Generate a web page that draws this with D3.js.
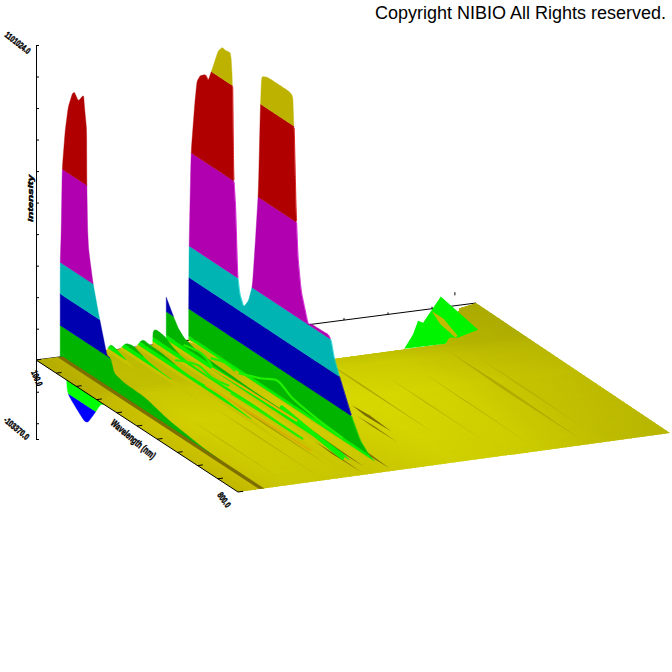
<!DOCTYPE html>
<html><head><meta charset="utf-8">
<script src="https://cdn.jsdelivr.net/npm/d3@7"></script>
<style>html,body{margin:0;padding:0;background:#fff}svg{display:block}</style>
</head><body><svg id="c" width="672" height="672"></svg>
<script>
// ---------- chart values (wavelength & time as fraction of their axes, intensity as % of full scale) ----------
const copyright = "Copyright NIBIO All Rights reserved.";
const intensityTicks = [-25,-20,-10,0,10,20,30,40,50,60,70,80,90,100];
const wavelengthTicks = [0,.1,.2,.3,.4,.5,.6,.7,.8,.9,1];
const levelsTall = [0,.5,1.5,10,20,30,60,90,102];
const levelsHill = [0,1.2,2.6,10,20,30,60,90,102];
const bandColours = ["#c8c400","#00f000","#00b400","#0000b0","#00b4b4","#b000b0","#b00000","#bdb200"];
const negLevels = [-102,-10,0];
const negColours = ["#0000ff","#00ff00"];

const mainU = [0,0,.002,.012,.032,.042,.058,.083,.098,.118,.148,.169,.184,.209,.214,.219,.224,.234,.244,.255,.275,.30,.32,.335,.35,.36,.366,.396,.522,.527,.537,.547,.563,.598,.613,.70,.714,.729,.755,.815,.86,.90,.931,.967];
const mainI = [0,9.5,29.5,60,77.5,84,86.4,87.8,86.5,91,98,100,99.7,100,97.8,91.5,62,52,31,25.4,22,25,30.7,45.6,62,89,99,100,100,91.7,64.5,49,39,30,30.8,31,29.6,24.8,20,10,4,1.5,.5,0];
const leftU = [0,0,.005,.01,.025,.04,.06,.07,.09,.116,.121,.131,.132,.136,.141,.162,.187,.2,.217,.232,.25,.268,.318,.42,.54,.707,.9];
const leftI = [0,30,40,60,73,81,86,87,85,88,84,77.6,61,46,40,30.5,22.7,19,14.3,10.2,10,6,5,4.7,2.4,.8,0];
const spikeU = [0,0,0,.04,.06,.09,.15,.23,.3,.43,.58,.73,.88,.98];
const spikeI = [0,7,14.6,9.5,7.3,5.4,4,3.6,3.4,3,3,2.8,2,0];
const hillBU = [0,.003,.058,.093,.144,.245,.346,.548,.75,.95];
const hillBI = [0,5.6,5.4,3.8,2.2,1.6,1.9,2.2,1.1,0];
const hillCU = [0,.033,.073,.124,.25,.376,.58,.75];
const hillCI = [0,4,3.5,3.5,2,2.5,1.2,0];
const hillDU = [0,.03,.07,.1,.146,.22,.3,.4];
const hillDI = [0,3.2,4,3,2,1.3,1.1,0];
const hillEU = [0,.02,.05,.09,.14];
const hillEI = [0,3,2.6,1.5,0];
const ridgeTimes = [.93,.347,.296,.265,.227,.19,.16,.055];
const negU = [.03,.03,.035,.08,.13,.173,.2,.22,.25];
const negI = [0,-3,-10,-13,-16,-10.5,-6.7,-6,0];

const floorEdgeU = [0,1,1,0,.02,.236,.24,.24,0];
const floorEdgeV = [0,0,1,1,.954,.826,.577,.4,.34];
const floorShadeV = [0,.045,.06,.12,.3,.5,.7,.85,1];
const floorShade = ["#c8c000","#cfc400","#cfca00","#d2d000","#d0cc00","#d8d800","#d2d200","#c6c400","#bebc00"];
const floorShadeU = [0,.24,.3,.5,.8,1];
const floorBright = [.9,.92,.96,1,.98,.96];

const farHillU = [.233,.15,.066,.083,0,.174,.208,.20,.236];
const farHillV = [.733,.79,.839,.843,.92,.928,.866,.851,.826];
const farHillI = [0,0,0,0,3.5,0,0,0,0];
const farInnerU = [.014,.075,.195,.205,.105];
const farInnerV = [.893,.893,.872,.862,.872];

const streakV = [.315,.295,.36,.47,.547,.81,.85,.45,.12,.2,.25,.62,.7];
const streakA = [.55,.75,.8,.55,.18,.28,.35,.62,.5,.45,.4,.4,.4];
const streakB = [.95,.98,.98,.75,.8,.97,.9,.82,.95,.98,.9,.9,.95];
const streakW = [.005,.004,.004,.005,.003,.005,.003,.003,.002,.002,.003,.002,.002];
const streakDark = [1,1,.8,.9,.22,.2,.12,.6,.12,.15,.35,.08,.08];

const trackU = [[.253,.304,.329,.45,.597,.747],[.117,.168,.255,.32],[.029,.094,.179],[.134,.171,.23],[.374,.504,.719],[.504,.873],[.2,.35,.6],[.3,.5,.8]];
const trackV = [[.348,.376,.399,.378,.365,.358],[.265,.293,.283,.292],[.324,.333,.318],[.338,.351,.347],[.275,.278,.279],[.33,.30],[.31,.315,.32],[.25,.255,.26]];
const trackColours = ["#20f000","#20f000","#20f000","#20f000","#20f000","#10f000","#e0b400","#d8b000"];

// ---------- projection through scales ----------
const svg = d3.select("#c");
const leftX = d3.scaleLinear([0,1],[36,238]), leftY = d3.scaleLinear([0,1],[360,492]);
const rightX = d3.scaleLinear([0,1],[476,670]), rightY = d3.scaleLinear([0,1],[303,433]);
const intensityPx = d3.scaleLinear([0,100],[0,315]);
const X = (u,v)=>d3.interpolateNumber(leftX(u),rightX(u))(v);
const Y = (u,v,z=0)=>d3.interpolateNumber(leftY(u),rightY(u))(v)-intensityPx(z);
const poly = pts=>"M"+pts.map(p=>p.join(",")).join("L")+"Z";

// ---------- axes behind the surface ----------
const axisScale = d3.scaleLinear([100,-25],[45,439]);
svg.append("g").attr("transform","translate(36,0)")
  .call(d3.axisRight(axisScale).tickValues(intensityTicks).tickSize(3).tickSizeOuter(0).tickFormat(""))
  .call(g=>{g.selectAll("path,line").attr("stroke","#000");});
svg.append("path").attr("d",d3.line()([[X(0,0),Y(0,0)],[X(0,1),Y(0,1)]])).attr("stroke","#000").attr("fill","none");
d3.range(.1,1,.1).forEach(v=>svg.append("line").attr("x1",X(0,v)).attr("x2",X(0,v)).attr("y1",Y(0,v)).attr("y2",Y(0,v)-2).attr("stroke","#000"));
svg.append("line").attr("x1",X(0,.952)).attr("x2",X(0,.952)).attr("y1",Y(0,.952,3.3)).attr("y2",Y(0,.952,4.3)).attr("stroke","#000");

// ---------- wall rendering: a profile at constant time, cut by intensity bands ----------
function dense(us,is,win){
  const out=[];
  for(let i=0;i<us.length-1;i++) for(let k=0;k<30;k++){const t=k/30;out.push([us[i]+(us[i+1]-us[i])*t, is[i]+(is[i+1]-is[i])*t]);}
  out.push([us[us.length-1],is[is.length-1]]);
  if(!win) return out;
  return out.map((p,i)=>{
    const a=Math.max(0,i-win), b=Math.min(out.length-1,i+win), r=Math.min(i-a,b-i);
    const s=out.slice(i-r,i+r+1);
    return [d3.mean(s,q=>q[0]),d3.mean(s,q=>q[1])];
  });
}
function wall(us,is,v,levels,colours,opt={}){
  const d=dense(us,is,opt.win===undefined?12:opt.win), g=svg.append("g");
  colours.forEach((c,i)=>{
    const a=levels[i], b=levels[i+1];
    const fill=(opt.noLime&&i<3)?"#00b400":c;
    const area=d3.area().defined(p=>p[1]>a).x(p=>X(p[0],v)).y0(p=>Y(p[0],v,a)).y1(p=>Y(p[0],v,Math.min(p[1],b)));
    g.append("path").attr("d",area(d)).attr("fill",fill).attr("stroke",fill).attr("stroke-width",.4);
  });
  if(opt.fringe){
    colours.forEach((c,i)=>{
      if(i<2||i===7) return;
      const a=levels[i], b=levels[i+1];
      const marked=d.map((p,k)=>({p,on:p[1]>a&&p[1]<b&&k>0&&d[k-1][1]>p[1]}));
      const line=d3.line().defined(q=>q.on).x(q=>X(q.p[0],v)+.4).y(q=>Y(q.p[0],v,q.p[1]));
      g.append("path").attr("d",line(marked)).attr("fill","none").attr("stroke",d3.rgb(c).brighter(.5)).attr("stroke-width",.8);
    });
  }
}

// negative lobe under the floor
(function(){
  const d=dense(negU,negI,10), g=svg.append("g"), v=ridgeTimes[7];
  negColours.forEach((c,i)=>{
    const a=negLevels[i], b=negLevels[i+1];
    const area=d3.area().defined(p=>p[1]<b).x(p=>X(p[0],v)).y0(p=>Y(p[0],v,b)).y1(p=>Y(p[0],v,Math.max(p[1],a)));
    g.append("path").attr("d",area(d)).attr("fill",c).attr("stroke",c).attr("stroke-width",.4);
  });
})();

// ---------- floor ----------
const floorPts = floorEdgeU.map((u,i)=>[X(u,floorEdgeV[i]),Y(u,floorEdgeV[i])]);
svg.append("clipPath").attr("id","floorClip").append("path").attr("d",poly(floorPts));
const shade = d3.scaleLinear(floorShadeV,floorShade);
const bright = d3.scaleLinear(floorShadeU,floorBright);
const floorG = svg.append("g").attr("clip-path","url(#floorClip)");
d3.range(0,1,.02).forEach(u=>d3.range(0,1,.01).forEach(v=>{
  const c=d3.rgb(shade(v)), k=bright(u), col=d3.rgb(c.r*k,c.g*k,c.b*k).formatHex();
  const u2=u+.022, v2=v+.0105;
  floorG.append("path").attr("d",poly([[X(u,v),Y(u,v)],[X(u2,v),Y(u2,v)],[X(u2,v2),Y(u2,v2)],[X(u,v2),Y(u,v2)]]))
    .attr("fill",col).attr("stroke",col).attr("stroke-width",1);
}));
streakV.forEach((v,i)=>{
  const a=streakA[i], b=streakB[i], w=streakW[i], m=a+(b-a)*.4;
  const col=d3.interpolateRgb("#c4bc00","#6f6200")(streakDark[i]);
  floorG.append("path").attr("d",poly([[X(a,v),Y(a,v)],[X(m,v+w),Y(m,v+w)],[X(b,v),Y(b,v)],[X(m,v-w),Y(m,v-w)]])).attr("fill",col);
});

// ---------- far hill ----------
svg.append("path").attr("d",poly(farHillU.map((u,i)=>[X(u,farHillV[i]),Y(u,farHillV[i],farHillI[i])]))).attr("fill","#00f400");
svg.append("path").attr("d",poly(farInnerU.map((u,i)=>[X(u,farInnerV[i]),Y(u,farInnerV[i])]))).attr("fill","#c0bc00");

// ---------- ridges back to front ----------
wall(mainU,mainI,ridgeTimes[1],levelsTall,bandColours,{fringe:true,win:6});
wall(spikeU,spikeI,ridgeTimes[2],levelsHill,bandColours,{win:0});
wall(hillBU,hillBI,ridgeTimes[3],levelsHill,bandColours);
wall(hillCU,hillCI,ridgeTimes[4],levelsHill,bandColours);
wall(hillDU,hillDI,ridgeTimes[5],levelsHill,bandColours);
wall(hillEU,hillEI,ridgeTimes[6],levelsHill,bandColours);

// tracks over the foot of the ridges
const trackLine = d3.line().curve(d3.curveCatmullRom);
trackU.forEach((us,i)=>{
  svg.append("path").attr("d",trackLine(us.map((u,k)=>[X(u,trackV[i][k]),Y(u,trackV[i][k])])))
    .attr("fill","none").attr("stroke",trackColours[i]).attr("stroke-width",i===5?4:2.2).attr("stroke-linecap","round");
});

wall(leftU,leftI,ridgeTimes[7],levelsTall,bandColours,{noLime:true,win:6});
// brown fold at the foot of the left ridge
(function(){const v=ridgeTimes[7],w=.006;
 svg.append("path").attr("d",poly([[X(0,v-w),Y(0,v-w)],[X(1,v-w),Y(1,v-w)],[X(1,v+w),Y(1,v+w)],[X(0,v+w),Y(0,v+w)]])).attr("fill","#7d6e00");
})();

// ---------- front axis ----------
svg.append("path").attr("d",d3.line()([[X(0,0),Y(0,0)],[X(1,0),Y(1,0)]])).attr("stroke","#000").attr("fill","none");
wavelengthTicks.forEach(u=>svg.append("line").attr("x1",X(u,0)).attr("y1",Y(u,0)).attr("x2",X(u,.012)).attr("y2",Y(u,.012)).attr("stroke","#000"));

// ---------- text ----------
svg.append("text").attr("x",375).attr("y",19).attr("font-family","Liberation Sans").attr("font-size",18).attr("fill","#000").text(copyright);
const lab=(t,x,y,r,len,fs=9)=>svg.append("text").attr("transform",`translate(${x},${y}) rotate(${r})`)
  .attr("font-family","Liberation Sans").attr("font-weight","bold").attr("font-size",fs).attr("textLength",len).attr("lengthAdjust","spacingAndGlyphs")
  .attr("fill","#000").attr("stroke","#000").attr("stroke-width",.45).text(t);
lab("1101024.0",4,36,38,30);
lab("-103370.0",3,421,40,30);
lab("100.0",31,372,68,16);
lab("800.0",217,495,55,16);
lab("Wavelength (nm)",110,424,40,55,10);
lab("Intensity",33,222,-90,47,8).attr("font-style","italic");
</script></body></html>
